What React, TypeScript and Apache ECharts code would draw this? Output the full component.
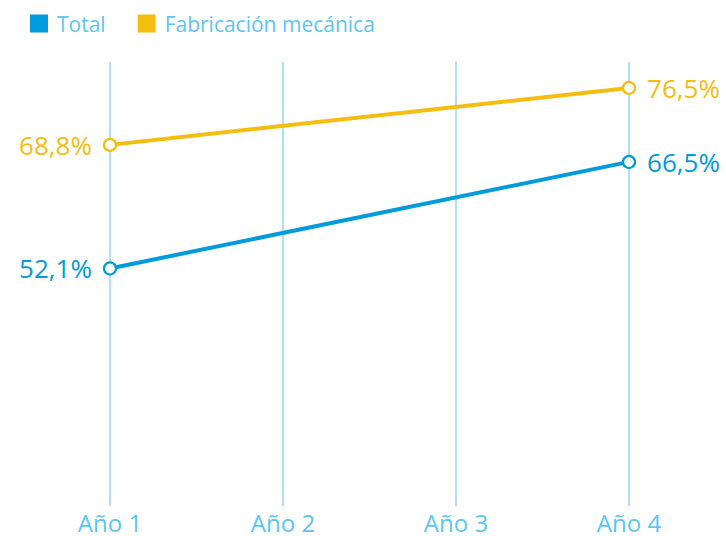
import React, { useEffect, useRef } from "react";
import * as echarts from "echarts";

const categories = ["Año 1", "Año 2", "Año 3", "Año 4"];
const totalValues: (number | null)[] = [52.1, null, null, 66.5];
const fabricacionValues: (number | null)[] = [68.8, null, null, 76.5];
const seriesNames = ["Total", "Fabricación mecánica"];

const BLUE = "#009bdb";
const YELLOW = "#f5bd0e";
const TEXT = "#5cc6f2";
const GRIDLINE = "#93d6f4";

function fmt(v: number) {
  return v.toFixed(1).replace(".", ",") + "%";
}

function buildData(values: (number | null)[], color: string) {
  return values.map((v, i) => {
    if (v === null) return null;
    const isFirst = i === 0;
    return {
      value: v,
      label: {
        show: true,
        position: isFirst ? "left" : "right",
        distance: 11,
        formatter: () => fmt(v),
        color,
        fontSize: 26,
        fontWeight: 500,
        fontFamily: "Open Sans",
      },
    };
  });
}

export default function App() {
  const ref = useRef<HTMLDivElement>(null);
  useEffect(() => {
    if (!ref.current) return;
    const chart = echarts.init(ref.current, undefined, { renderer: "svg" });
    const mkSeries = (name: string, values: (number | null)[], color: string) => ({
      name,
      type: "line",
      data: buildData(values, color),
      connectNulls: true,
      symbol: "circle",
      symbolSize: 12,
      showAllSymbol: true,
      lineStyle: { color, width: 4 },
      itemStyle: { color: "#ffffff", borderColor: color, borderWidth: 2.2 },
      emphasis: { disabled: true },
    });
    chart.setOption({
      animation: false,
      textStyle: { fontFamily: "Open Sans" },
      legend: {
        left: 25,
        top: 8,
        itemWidth: 18,
        itemHeight: 18,
        itemGap: 32,
        icon: "rect",
        textStyle: { color: TEXT, fontSize: 21, fontFamily: "Open Sans", padding: [0, 0, 0, 4] },
        data: [
          { name: seriesNames[0], itemStyle: { color: BLUE, borderWidth: 0 } },
          { name: seriesNames[1], itemStyle: { color: YELLOW, borderWidth: 0 } },
        ],
      },
      grid: { left: 110, right: 97, top: 62, bottom: 30 },
      xAxis: {
        type: "category",
        data: categories,
        boundaryGap: false,
        axisLine: { show: false },
        axisTick: { show: false },
        axisLabel: { color: TEXT, fontSize: 24, lineHeight: 18, fontFamily: "Open Sans", margin: 7 },
        splitLine: { show: true, lineStyle: { color: GRIDLINE, width: 1.5 } },
      },
      yAxis: {
        type: "value",
        min: 20,
        max: 80,
        show: false,
        splitLine: { show: false },
      },
      series: [
        mkSeries(seriesNames[1], fabricacionValues, YELLOW),
        mkSeries(seriesNames[0], totalValues, BLUE),
      ],
    });
    return () => chart.dispose();
  }, []);
  return (
    <div
      ref={ref}
      style={{ position: "fixed", left: 0, top: 0, width: 726, height: 536, background: "#fff" }}
    />
  );
}
